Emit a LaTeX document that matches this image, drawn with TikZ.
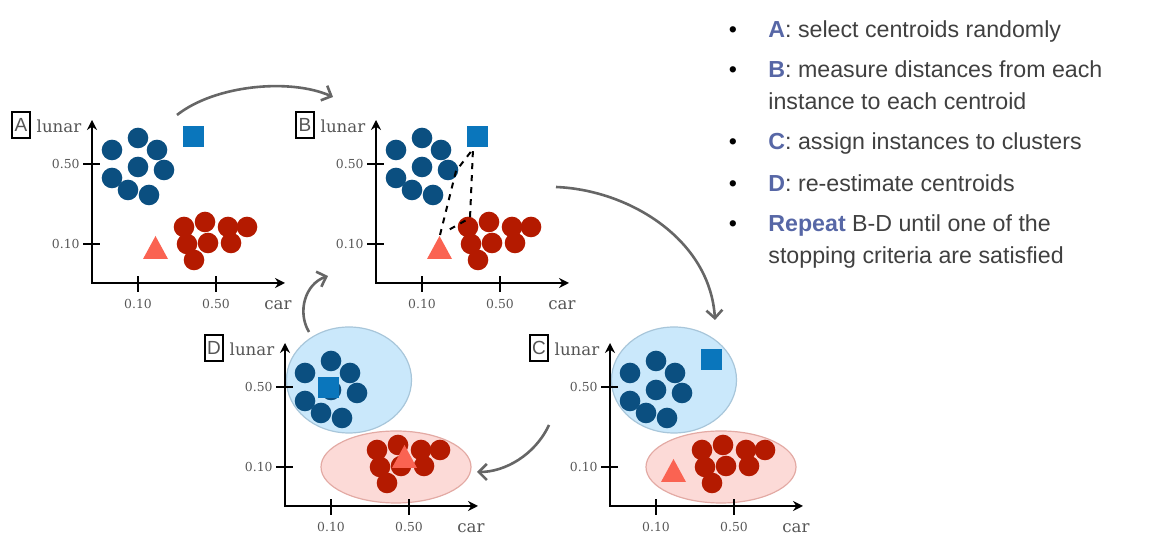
\documentclass[tikz,border=0pt]{standalone}
\usepackage{fontspec}
\setmainfont{Liberation Sans}
\newfontfamily\slabfont{DejaVu Serif}
\usetikzlibrary{arrows.meta}
\definecolor{dotblue}{HTML}{0B4F80}
\definecolor{dotred}{HTML}{B41A00}
\definecolor{sqblue}{HTML}{0A76BC}
\definecolor{trired}{HTML}{FA6352}
\definecolor{clublue}{HTML}{CAE8FB}
\definecolor{clublueline}{HTML}{A8C6DA}
\definecolor{clured}{HTML}{FCDAD7}
\definecolor{cluredline}{HTML}{E3AAA4}
\definecolor{flowgray}{HTML}{666666}
\definecolor{keyblue}{HTML}{5767A6}
\definecolor{bodygray}{HTML}{404040}
\definecolor{axisgray}{HTML}{555555}
\tikzset{axis/.style={line width=1pt, {Stealth[length=5pt,width=5pt]}-{Stealth[length=5pt,width=5pt]}},
  tickmark/.style={line width=0.6pt},
  ticklabel/.style={font=\slabfont\fontsize{6.2}{7}\selectfont, text=axisgray, inner sep=0pt},
  axislabel/.style={font=\slabfont\fontsize{8.3}{9}\selectfont, text=axisgray, inner sep=0pt},
  panelbox/.style={draw, line width=0.6pt, minimum width=9pt, minimum height=13pt, inner sep=0pt, font=\fontsize{9.5}{10}\selectfont, text=axisgray},
  flow/.style={flowgray, line width=1.3pt, -{Straight Barb[length=4pt,width=8pt]}},
  item/.style={anchor=base west, align=left, inner sep=0pt, text=bodygray, font=\fontsize{11.6}{16}\selectfont},
  bulletdot/.style={anchor=base, inner sep=0pt, font=\fontsize{11.6}{16}\selectfont}}
\newcommand{\kw}[1]{\textbf{\color{keyblue}#1}}
% axes, ticks and labels of one panel
\newcommand{\kaxes}[2]{%
  \draw[axis] (0,163) -- (0,0) -- (193,0);
  \draw[tickmark] (-9,119) -- (8,119) (-9,39) -- (8,39) (46,-9) -- (46,7) (124,-9) -- (124,7);
  \node[ticklabel, anchor=east] (#1y50) at (-12,119) {0.50};
  \node[ticklabel, anchor=east] (#1y10) at (-12,39) {0.10};
  \node[ticklabel] (#1x10) at (46,-21) {0.10};
  \node[ticklabel] (#1x50) at (124,-21) {0.50};
  \node[axislabel] (#1lunar) at (-33,157) {lunar};
  \node[axislabel] (#1car) at (186,-22) {car};
  \node[panelbox] (#1box) at (-71,158) {#2};}
% the instances
\newcommand{\kdots}{%
  \foreach \p in {(20,133),(46,145),(65,133),(46,116),(72,113),(20,105),(36,93),(57,88)}
    \fill[dotblue] \p circle[radius=5.15pt];
  \foreach \p in {(92,56),(113,61),(136,56),(155,56),(95,39),(116,40),(139,40),(102,23)}
    \fill[dotred] \p circle[radius=5.15pt];}
\newcommand{\kclusters}{%
  \filldraw[fill=clublue, draw=clublueline, line width=0.6pt] (64,126) ellipse[x radius=62.5, y radius=53];
  \filldraw[fill=clured, draw=cluredline, line width=0.6pt] (111,39) ellipse[x radius=75, y radius=36];}

\begin{document}
\begin{tikzpicture}[x=0.5pt, y=0.5pt]
  \useasboundingbox (0,0) rectangle (1151,550);
  % A
  \begin{scope}[shift={(92,267)}]
    \kaxes{a}{A}
    \kdots
    \fill[sqblue] (91,136) rectangle (112,157);
    \fill[trired] (51,24) -- (63.5,47) -- (76,24) -- cycle;
  \end{scope}
  % B
  \begin{scope}[shift={(376,267)}]
    \kaxes{b}{B}
    \kdots
    \fill[sqblue] (91,136) rectangle (112,157);
    \fill[trired] (51,24) -- (63.5,47) -- (76,24) -- cycle;
    \draw[line width=1pt, dashed] (64,48) -- (80,112) -- (97,134) -- (94,65) -- (69,51);
  \end{scope}
  % C
  \begin{scope}[shift={(610,44)}]
    \kclusters
    \kaxes{c}{C}
    \kdots
    \fill[sqblue] (91,136) rectangle (112,157);
    \fill[trired] (51,24) -- (63.5,47) -- (76,24) -- cycle;
  \end{scope}
  % D
  \begin{scope}[shift={(285,44)}]
    \kclusters
    \kaxes{d}{D}
    \kdots
    \fill[sqblue] (33,108) rectangle (54,129);
    \fill[trired] (107,38) -- (119.5,61) -- (132,38) -- cycle;
  \end{scope}
  % steps
  \coordinate (ab1) at (177,435); \coordinate (ab2) at (333,453);
  \coordinate (bc1) at (556,363); \coordinate (bc2) at (715,230);
  \coordinate (cd1) at (549,125); \coordinate (cd2) at (477,78);
  \coordinate (db1) at (309,218); \coordinate (db2) at (328,274);
  \draw[flow] (ab1) .. controls (215,465) and (290,472) .. (ab2);
  \draw[flow] (bc1) .. controls (630,360) and (710,310) .. (bc2);
  \draw[flow] (cd1) .. controls (535,95) and (505,78) .. (cd2);
  \draw[flow] (db1) .. controls (297,238) and (305,266) .. (db2);
  % list
  \node[bulletdot] (u1) at (733,512) {•};
  \node[bulletdot] (u2) at (733,472) {•};
  \node[bulletdot] (u3) at (733,400) {•};
  \node[bulletdot] (u4) at (733,358) {•};
  \node[bulletdot] (u5) at (733,318) {•};
  \node[item] (t1) at (768,512) {\kw{A}: select centroids randomly};
  \node[item] (t2) at (768,440) {\kw{B}: measure distances from each\\instance to each centroid};
  \node[item] (t3) at (768,400) {\kw{C}: assign instances to clusters};
  \node[item] (t4) at (768,358) {\kw{D}: re-estimate centroids};
  \node[item] (t5) at (768,286) {\kw{Repeat} B-D until one of the\\stopping criteria are satisfied};
\end{tikzpicture}
\end{document}
